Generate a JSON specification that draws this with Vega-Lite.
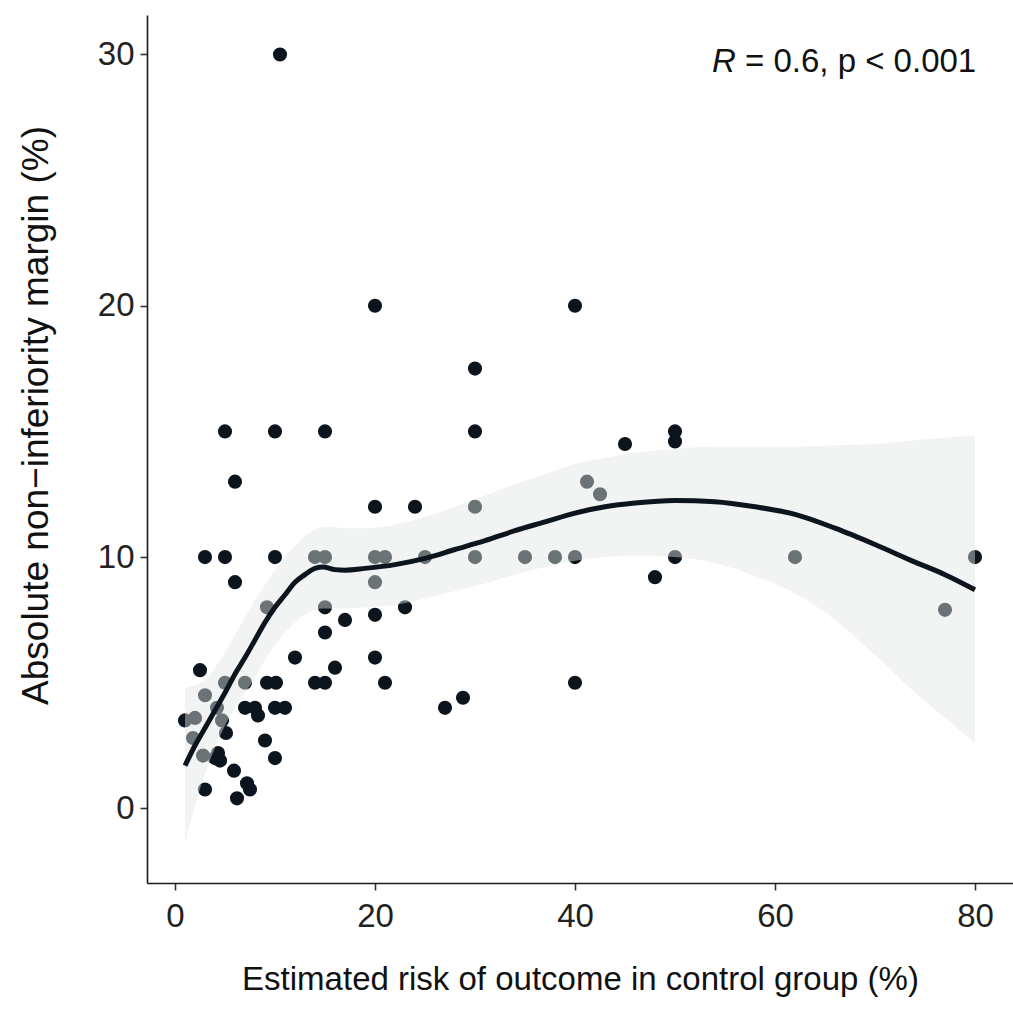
{
  "$schema": "https://vega.github.io/schema/vega-lite/v6.json",
  "autosize": {"type": "none"},
  "padding": {"left": 147, "top": 15, "right": 0, "bottom": 132},
  "width": 866,
  "height": 868,
  "background": "white",
  "config": {
    "view": {"stroke": null},
    "font": "Liberation Sans",
    "axis": {
      "grid": false,
      "domainColor": "#1a1a1a",
      "domainWidth": 1.6,
      "tickColor": "#333333",
      "tickWidth": 1.6,
      "tickSize": 7,
      "labelFont": "Liberation Sans",
      "labelFontSize": 33,
      "labelColor": "#222222",
      "titleFont": "Liberation Sans",
      "titleFontSize": 33,
      "titleFontWeight": "normal",
      "titleColor": "#111111"
    }
  },
  "datasets": {
    "pts": [
      {"risk": 10.5, "margin": 30}, {"risk": 20, "margin": 20}, {"risk": 40, "margin": 20},
      {"risk": 30, "margin": 17.5}, {"risk": 5, "margin": 15}, {"risk": 10, "margin": 15},
      {"risk": 15, "margin": 15}, {"risk": 30, "margin": 15}, {"risk": 50, "margin": 15},
      {"risk": 50, "margin": 14.6}, {"risk": 45, "margin": 14.5}, {"risk": 6, "margin": 13},
      {"risk": 41.2, "margin": 13}, {"risk": 42.5, "margin": 12.5}, {"risk": 20, "margin": 12},
      {"risk": 24, "margin": 12}, {"risk": 30, "margin": 12}, {"risk": 3, "margin": 10},
      {"risk": 5, "margin": 10}, {"risk": 10, "margin": 10}, {"risk": 14, "margin": 10},
      {"risk": 15, "margin": 10}, {"risk": 20, "margin": 10}, {"risk": 21, "margin": 10},
      {"risk": 25, "margin": 10}, {"risk": 30, "margin": 10}, {"risk": 35, "margin": 10},
      {"risk": 38, "margin": 10}, {"risk": 40, "margin": 10}, {"risk": 50, "margin": 10},
      {"risk": 62, "margin": 10}, {"risk": 80, "margin": 10}, {"risk": 6, "margin": 9},
      {"risk": 20, "margin": 9}, {"risk": 48, "margin": 9.2}, {"risk": 9.2, "margin": 8},
      {"risk": 15, "margin": 8}, {"risk": 23, "margin": 8}, {"risk": 77, "margin": 7.9},
      {"risk": 20, "margin": 7.7}, {"risk": 17, "margin": 7.5}, {"risk": 15, "margin": 7},
      {"risk": 12, "margin": 6}, {"risk": 20, "margin": 6}, {"risk": 16, "margin": 5.6},
      {"risk": 2.5, "margin": 5.5}, {"risk": 5, "margin": 5}, {"risk": 7, "margin": 5},
      {"risk": 9.2, "margin": 5}, {"risk": 10.1, "margin": 5}, {"risk": 14, "margin": 5},
      {"risk": 15, "margin": 5}, {"risk": 21, "margin": 5}, {"risk": 40, "margin": 5},
      {"risk": 3, "margin": 4.5}, {"risk": 28.8, "margin": 4.4}, {"risk": 27, "margin": 4},
      {"risk": 7, "margin": 4}, {"risk": 8, "margin": 4}, {"risk": 10, "margin": 4},
      {"risk": 11, "margin": 4}, {"risk": 8.3, "margin": 3.7}, {"risk": 1, "margin": 3.5},
      {"risk": 2, "margin": 3.6}, {"risk": 4.2, "margin": 4}, {"risk": 4.7, "margin": 3.5},
      {"risk": 5.1, "margin": 3.0}, {"risk": 1.8, "margin": 2.8}, {"risk": 9, "margin": 2.7},
      {"risk": 10, "margin": 2}, {"risk": 2.8, "margin": 2.1}, {"risk": 4, "margin": 2},
      {"risk": 4.3, "margin": 2.2}, {"risk": 4.5, "margin": 1.9}, {"risk": 5.9, "margin": 1.5},
      {"risk": 7.2, "margin": 1.0}, {"risk": 7.5, "margin": 0.75}, {"risk": 3, "margin": 0.75},
      {"risk": 6.2, "margin": 0.4}
    ],
    "fit": [
      {"risk": 1, "fit": 1.7, "lo": -1.4, "hi": 4.8},
      {"risk": 2, "fit": 2.5, "lo": 0.1, "hi": 4.9},
      {"risk": 3, "fit": 3.2, "lo": 1.4, "hi": 5.1},
      {"risk": 4, "fit": 3.9, "lo": 2.4, "hi": 5.6},
      {"risk": 5, "fit": 4.6, "lo": 3.3, "hi": 6.2},
      {"risk": 6, "fit": 5.35, "lo": 4.0, "hi": 6.9},
      {"risk": 7, "fit": 6.0, "lo": 4.6, "hi": 7.6},
      {"risk": 8, "fit": 6.7, "lo": 5.2, "hi": 8.3},
      {"risk": 9, "fit": 7.4, "lo": 5.9, "hi": 8.9},
      {"risk": 10, "fit": 8.0, "lo": 6.5, "hi": 9.5},
      {"risk": 11, "fit": 8.5, "lo": 7.0, "hi": 10.0},
      {"risk": 12, "fit": 9.0, "lo": 7.4, "hi": 10.45},
      {"risk": 13, "fit": 9.3, "lo": 7.7, "hi": 10.85},
      {"risk": 14, "fit": 9.55, "lo": 7.9, "hi": 11.1},
      {"risk": 14.8, "fit": 9.6, "lo": 7.95, "hi": 11.2},
      {"risk": 16, "fit": 9.5, "lo": 7.95, "hi": 11.2},
      {"risk": 17, "fit": 9.48, "lo": 7.95, "hi": 11.15},
      {"risk": 19, "fit": 9.55, "lo": 8.0, "hi": 11.15},
      {"risk": 22, "fit": 9.7, "lo": 8.1, "hi": 11.3},
      {"risk": 25, "fit": 9.95, "lo": 8.35, "hi": 11.6},
      {"risk": 28, "fit": 10.3, "lo": 8.65, "hi": 12.0},
      {"risk": 31, "fit": 10.65, "lo": 8.95, "hi": 12.45},
      {"risk": 34, "fit": 11.05, "lo": 9.3, "hi": 12.9},
      {"risk": 37, "fit": 11.4, "lo": 9.6, "hi": 13.3},
      {"risk": 40, "fit": 11.75, "lo": 9.85, "hi": 13.7},
      {"risk": 43, "fit": 12.0, "lo": 10.0, "hi": 13.95},
      {"risk": 46, "fit": 12.15, "lo": 10.05, "hi": 14.15},
      {"risk": 50, "fit": 12.25, "lo": 10.0, "hi": 14.3},
      {"risk": 54, "fit": 12.2, "lo": 9.75, "hi": 14.4},
      {"risk": 58, "fit": 12.0, "lo": 9.25, "hi": 14.4},
      {"risk": 62, "fit": 11.7, "lo": 8.55, "hi": 14.4},
      {"risk": 66, "fit": 11.15, "lo": 7.5, "hi": 14.45},
      {"risk": 70, "fit": 10.5, "lo": 6.1, "hi": 14.5},
      {"risk": 74, "fit": 9.8, "lo": 4.6, "hi": 14.65},
      {"risk": 77, "fit": 9.3, "lo": 3.6, "hi": 14.75},
      {"risk": 80, "fit": 8.7, "lo": 2.6, "hi": 14.85}
    ],
    "notes": [
      {"risk": 53.7, "margin": 29.7, "label": "R", "kind": "italic"},
      {"risk": 57.0, "margin": 29.7, "label": "= 0.6, p < 0.001", "kind": "normal"}
    ]
  },
  "layer": [
    {
      "data": {"name": "pts"},
      "mark": {"type": "circle", "size": 200, "opacity": 1, "color": "#0c151d"},
      "encoding": {
        "x": {"field": "risk", "type": "quantitative",
              "scale": {"domain": [-2.8, 83.8], "nice": false, "zero": false},
              "axis": {"values": [0, 20, 40, 60, 80], "title": "Estimated risk of outcome in control group (%)", "labelPadding": 10, "titlePadding": 30}},
        "y": {"field": "margin", "type": "quantitative",
              "scale": {"domain": [-2.97, 31.57], "nice": false, "zero": false},
              "axis": {"values": [0, 10, 20, 30], "title": "Absolute non\u2212inferiority margin (%)", "labelPadding": 6, "titlePadding": 42, "titleFontSize": 37, "titleY": 400}}
      }
    },
    {
      "data": {"name": "fit"},
      "mark": {"type": "area", "color": "#e3e6e6", "opacity": 0.45, "interpolate": "monotone"},
      "encoding": {
        "x": {"field": "risk", "type": "quantitative"},
        "y": {"field": "lo", "type": "quantitative"},
        "y2": {"field": "hi"}
      }
    },
    {
      "data": {"name": "fit"},
      "mark": {"type": "line", "color": "#0c151d", "strokeWidth": 5, "interpolate": "monotone"},
      "encoding": {
        "x": {"field": "risk", "type": "quantitative"},
        "y": {"field": "fit", "type": "quantitative"}
      }
    },
    {
      "data": {"name": "notes"},
      "transform": [{"filter": "datum.kind == 'italic'"}],
      "mark": {"type": "text", "align": "left", "baseline": "middle", "fontSize": 33, "fontStyle": "italic", "font": "Liberation Sans", "color": "#111111"},
      "encoding": {
        "x": {"field": "risk", "type": "quantitative"},
        "y": {"field": "margin", "type": "quantitative"},
        "text": {"field": "label"}
      }
    },
    {
      "data": {"name": "notes"},
      "transform": [{"filter": "datum.kind == 'normal'"}],
      "mark": {"type": "text", "align": "left", "baseline": "middle", "fontSize": 33, "font": "Liberation Sans", "color": "#111111"},
      "encoding": {
        "x": {"field": "risk", "type": "quantitative"},
        "y": {"field": "margin", "type": "quantitative"},
        "text": {"field": "label"}
      }
    }
  ]
}
